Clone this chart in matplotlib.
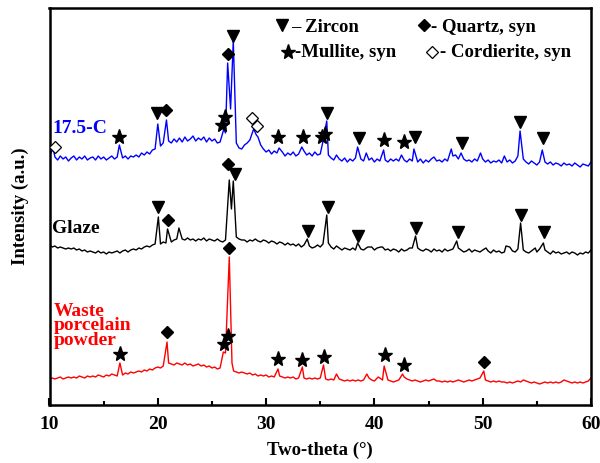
import numpy as np
import matplotlib
matplotlib.use('Agg')
import matplotlib.pyplot as plt
from matplotlib.ticker import MultipleLocator

plt.rcParams['font.family'] = ['Liberation Serif', 'DejaVu Serif']
plt.rcParams['font.weight'] = 'bold'
plt.rcParams['axes.labelweight'] = 'bold'

# 2-theta grid for the background readings (one value every 0.25 deg)
two_theta = np.arange(10, 60.001, 0.25)

# background intensity (arbitrary units, stacked)
blue_base = [250, 246, 248, 245, 249, 246, 248, 244,
             247, 249, 245, 248, 246, 249, 245, 247,
             248, 245, 249, 246, 248, 245, 247, 249,
             246, 248, 249, 247, 249, 246, 249, 248,
             250, 248, 252, 250, 253, 251, 255, 256,
             258, 259, 262, 261, 264, 262, 266, 263,
             267, 263, 268, 264, 266, 269, 264, 267,
             265, 268, 263, 267, 264, 266, 262, 263,
             268, 272, 280, 300, 300, 262, 257, 256,
             260, 262, 265, 270, 272, 268, 260, 256,
             253, 255, 251, 254, 252, 250, 253, 249,
             252, 250, 253, 249, 251, 252, 254, 250,
             252, 249, 253, 250, 251, 256, 262, 250,
             247, 245, 249, 246, 244, 247, 243, 246,
             244, 247, 245, 246, 244, 248, 245, 247,
             243, 246, 244, 247, 245, 243, 246, 244,
             246, 244, 247, 245, 243, 246, 244, 245,
             243, 246, 242, 245, 243, 246, 247, 244,
             245, 243, 246, 244, 247, 249, 250, 246,
             252, 246, 244, 245, 243, 246, 244, 247,
             246, 243, 245, 242, 244, 243, 245, 242,
             248, 243, 245, 242, 244, 249, 260, 246,
             243, 241, 244, 242, 240, 243, 248, 243,
             241, 243, 240, 242, 241, 239, 242, 240,
             241, 239, 242, 240, 238, 241, 240, 239,
             243]
black_base = [160, 158, 159, 157, 158, 157, 156, 157,
              156, 157, 155, 156, 154, 155, 153, 154,
              153, 152, 154, 152, 153, 151, 153, 152,
              153, 154, 152, 154, 155, 153, 155, 156,
              155, 157, 156, 158, 159, 158, 160, 161,
              162, 161, 163, 162, 164, 163, 165, 166,
              164, 166, 165, 167, 165, 166, 164, 166,
              165, 167, 164, 166, 165, 164, 166, 164,
              163, 165, 170, 200, 200, 168, 166, 165,
              165, 163, 165, 164, 166, 164, 163, 165,
              164, 162, 164, 163, 161, 163, 162, 160,
              162, 160, 161, 159, 161, 158, 160, 162,
              159, 157, 158, 160, 158, 161, 165, 162,
              158, 156, 158, 157, 155, 157, 156, 155,
              157, 155, 160, 156, 155, 157, 156, 158,
              155, 157, 156, 158, 155, 156, 154, 156,
              155, 153, 156, 154, 155, 157, 157, 166,
              157, 155, 154, 156, 155, 153, 156, 154,
              155, 153, 156, 154, 155, 156, 160, 157,
              155, 153, 154, 156, 153, 155, 154, 153,
              155, 153, 154, 152, 155, 153, 154, 152,
              153, 155, 158, 154, 153, 156, 170, 155,
              153, 152, 154, 155, 153, 156, 160, 155,
              153, 151, 154, 152, 153, 151, 152, 153,
              151, 153, 152, 150, 152, 151, 153, 152,
              155]
red_base = [26, 27, 26, 27, 28, 26, 27, 28,
            27, 28, 27, 29, 28, 27, 29, 28,
            29, 28, 30, 29, 28, 30, 29, 31,
            30, 29, 31, 30, 32, 31, 33, 32,
            33, 34, 33, 35, 34, 36, 35, 37,
            38, 37, 39, 38, 42, 41, 40, 42,
            41, 40, 42, 40, 41, 39, 40, 41,
            39, 40, 38, 39, 37, 38, 36, 37,
            45, 50, 60, 60, 34, 33, 32, 33,
            32, 31, 32, 30, 31, 29, 30, 29,
            30, 28, 29, 28, 27, 29, 28, 27,
            28, 27, 28, 26, 27, 28, 27, 26,
            27, 26, 27, 26, 27, 28, 26, 25,
            26, 25, 27, 26, 25, 24, 25, 24,
            25, 24, 25, 24, 25, 26, 27, 25,
            24, 26, 27, 25, 24, 25, 24, 23,
            24, 25, 26, 28, 26, 25, 24, 25,
            24, 23, 24, 25, 24, 25, 26, 24,
            24, 23, 24, 23, 24, 23, 24, 25,
            24, 23, 24, 25, 24, 25, 26, 27,
            30, 25, 24, 23, 24, 23, 24, 23,
            23, 22, 23, 22, 23, 24, 23, 25,
            24, 23, 22, 23, 22, 21, 22, 23,
            22, 23, 22, 23, 22, 23, 25, 24,
            23, 22, 23, 22, 23, 22, 23, 24,
            27]

# diffraction peaks (2-theta, top intensity)
blue_pk_pos = [10.35, 16.45, 20.0, 20.8, 26.1, 26.45, 26.72, 26.97, 28.85, 29.1, 31.2, 33.3,
               35.2, 35.6, 36.5, 38.45, 39.25, 40.85, 42.5, 43.65, 45.5, 47.1, 48.0, 49.8,
               52.0, 53.45, 55.5]
blue_pk_top = [256, 260, 281, 285, 276, 342, 296, 364, 276, 270, 257, 258,
               261, 284, 250, 258, 252, 255, 250, 256, 248, 256, 252, 252,
               249, 274, 255]
black_pk_pos = [20.05, 20.9, 21.95, 26.6, 26.8, 26.97, 33.8, 35.6, 36.5, 38.45, 39.4, 40.6,
                43.8, 47.6, 50.3, 52.15, 53.5, 54.85, 55.6]
black_pk_top = [188, 176, 177, 225, 196, 224, 166, 190, 159, 162, 158, 158,
                169, 164, 157, 159, 182, 157, 162]
red_pk_pos = [16.5, 20.85, 26.05, 26.25, 26.6, 26.85, 31.1, 33.35, 35.3, 36.5, 39.3, 40.35,
              40.9, 42.6, 50.1]
red_pk_top = [42, 63, 53, 52, 148, 42, 36, 38, 40, 31, 31, 28, 39, 31, 34]

# phase markers (2-theta, height)
zircon_x = [19.9, 26.97, 35.6, 38.58, 43.75, 48.06, 53.44, 55.6,
            20.05, 27.13, 33.9, 35.75, 38.52, 43.81, 47.75, 53.54, 55.66]
zircon_y = [292, 369, 292, 267, 268, 262, 283, 267,
            198, 231, 174, 198, 169, 177, 173, 190, 173]
quartz_x = [20.74, 26.45, 20.91, 26.5, 26.6, 20.88, 50.12]
quartz_y = [295, 351, 185, 241, 157, 73, 43]
mullite_x = [16.4, 25.9, 26.2, 31.13, 33.38, 35.15, 35.4, 40.88, 42.76,
             16.51, 26.11, 26.5, 31.13, 33.34, 35.33, 40.98, 42.76]
mullite_y = [268, 280, 288, 268, 268, 268, 271, 265, 263,
             51, 61, 69, 46, 45, 48, 50, 40]
cordierite_x = [10.5, 28.73, 29.19]
cordierite_y = [258, 287, 279]


def build(base, pk_pos, pk_top):
    x = np.asarray(two_theta)
    y = np.asarray(base, dtype=float)
    pk_pos = np.asarray(pk_pos, dtype=float)
    keep = np.array([np.min(np.abs(pk_pos - xi)) > 0.11 for xi in x])
    xs = np.concatenate([x[keep], pk_pos])
    ys = np.concatenate([y[keep], pk_top])
    o = np.argsort(xs, kind='stable')
    return xs[o], ys[o]


fig = plt.figure(figsize=(6, 4.63), dpi=100)
ax = fig.add_axes([49.5/600, 58/463, 541.5/600, 397.5/463])

for base, pos, top, col in [(red_base, red_pk_pos, red_pk_top, '#ff0000'),
                            (black_base, black_pk_pos, black_pk_top, 'black'),
                            (blue_base, blue_pk_pos, blue_pk_top, '#0000ff')]:
    xs, ys = build(base, pos, top)
    ax.plot(xs, ys, color=col, lw=1.0)

ax.plot(zircon_x, zircon_y, 'v', color='k', ms=8.5, ls='none', zorder=4)
ax.plot(quartz_x, quartz_y, 'D', color='k', ms=6, ls='none', zorder=4)
ax.plot(mullite_x, mullite_y, '*', color='k', ms=11, ls='none', zorder=4)
ax.plot(cordierite_x, cordierite_y, 'D', mfc='white', mec='k', mew=0.9, ms=6,
        ls='none', zorder=4)

# legend drawn as in the original
fs = 13.5
ax.plot([0.4288], [0.956], 'v', color='k', ms=8.5, transform=ax.transAxes)
ax.text(0.4458, 0.9391, '\u2013 Zircon', transform=ax.transAxes, fontsize=fs, va='baseline')
ax.plot([0.6916], [0.956], 'D', color='k', ms=6, transform=ax.transAxes)
ax.text(0.7045, 0.9391, '- Quartz, syn', transform=ax.transAxes, fontsize=fs, va='baseline')
ax.plot([0.441], [0.8888], '*', color='k', ms=11, transform=ax.transAxes)
ax.text(0.4534, 0.8747, '-Mullite, syn', transform=ax.transAxes, fontsize=fs, va='baseline')
ax.plot([0.7058], [0.8888], 'D', mfc='white', mec='k', mew=0.9, ms=6, transform=ax.transAxes)
ax.text(0.7211, 0.8747, '- Cordierite, syn', transform=ax.transAxes, fontsize=fs, va='baseline')

# sample labels
ax.text(10.23, 272, '17.5-C', color='#0000ff', fontsize=14, va='baseline')
ax.text(10.23, 172, 'Glaze', color='black', fontsize=14, va='baseline')
ax.text(10.4, 79, 'Waste\nporcelain\npowder', color='#ff0000', fontsize=14,
        va='center', linespacing=0.82)

ax.set_xlim(10, 60)
ax.set_ylim(0, 397.5)
ax.set_yticks([])
ax.xaxis.set_major_locator(MultipleLocator(10))
ax.xaxis.set_minor_locator(MultipleLocator(5))
ax.tick_params(axis='x', which='major', direction='in', length=5, width=1.5,
               labelsize=14, pad=8)
ax.tick_params(axis='x', which='minor', direction='in', length=3, width=1.5)
for s in ax.spines.values():
    s.set_linewidth(1.8)

ax.set_xlabel('Two-theta (\u00b0)', fontsize=13.5, labelpad=6)
ax.set_ylabel('Intensity (a.u.)', fontsize=13.5, labelpad=15)

fig.savefig('out.png', dpi=100)
